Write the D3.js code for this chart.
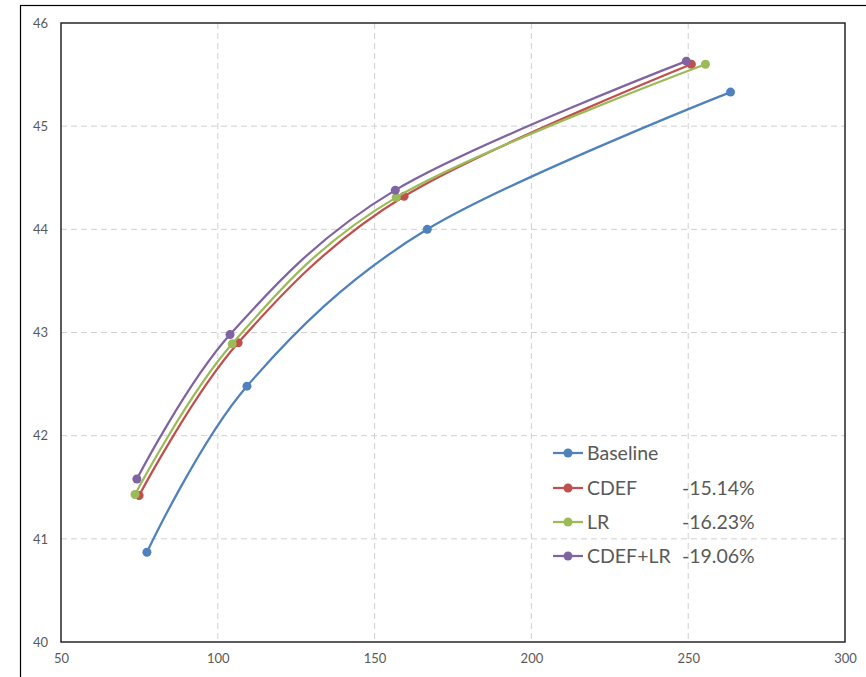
<!DOCTYPE html>
<html lang="en">
<head>
<meta charset="UTF-8">
<title>Rate curves</title>
<script src="https://d3js.org/d3.v7.min.js"></script>
<style>
  body { margin: 0; background: #fff; font-family: Lato, 'Open Sans', Arial, sans-serif; }
  .tick text { fill: #595959; font-size: 13px; }
  .legend text { fill: #595959; font-size: 19.5px; }
</style>
</head>
<body>
<svg width="866" height="677"></svg>
<script>
// series data (bitrate, quality)
const seriesNames = ["Baseline", "CDEF", "LR", "CDEF+LR"];
const savings = ["", "-15.14%", "-16.23%", "-19.06%"];
const colors = ["#4f81bd", "#c0504d", "#9bbb59", "#8064a2"];
const baselineX = [77.4, 109.3, 166.8, 263.5];
const baselineY = [40.87, 42.48, 44.00, 45.33];
const cdefX = [74.9, 106.5, 159.4, 251.0];
const cdefY = [41.42, 42.90, 44.32, 45.60];
const lrX = [73.6, 104.6, 156.9, 255.5];
const lrY = [41.43, 42.89, 44.31, 45.60];
const bothX = [74.2, 103.9, 156.6, 249.4];
const bothY = [41.58, 42.98, 44.38, 45.63];
const xTicks = [50, 100, 150, 200, 250, 300];
const yTicks = [40, 41, 42, 43, 44, 45, 46];

const series = [
  { xs: baselineX, ys: baselineY },
  { xs: cdefX, ys: cdefY },
  { xs: lrX, ys: lrY },
  { xs: bothX, ys: bothY }
].map((s, i) => ({
  name: seriesNames[i], color: colors[i], saving: savings[i],
  pts: s.xs.map((x, j) => [x, s.ys[j]])
}));

const svg = d3.select("svg");
const plotLeft = 61, plotRight = 845, plotTop = 23, plotBottom = 642;

// outer chart border
svg.append("rect")
  .attr("x", 20.5).attr("y", 5.5).attr("width", 900).attr("height", 700)
  .attr("fill", "none").attr("stroke", "#000").attr("stroke-width", 1.2);

const x = d3.scaleLinear().domain([50, 300]).range([plotLeft, plotRight]);
const y = d3.scaleLinear().domain([40, 46]).range([plotBottom, plotTop]);

// grid lines
svg.append("g")
  .selectAll("line").data(xTicks.slice(1, -1)).join("line")
  .attr("x1", d => x(d)).attr("x2", d => x(d))
  .attr("y1", plotTop).attr("y2", plotBottom)
  .attr("stroke", "#d0d0d0").attr("stroke-dasharray", "6,4");
svg.append("g")
  .selectAll("line").data(yTicks.slice(1, -1)).join("line")
  .attr("x1", plotLeft).attr("x2", plotRight)
  .attr("y1", d => y(d)).attr("y2", d => y(d))
  .attr("stroke", "#d0d0d0").attr("stroke-dasharray", "6,4");

// axes
const xAxis = svg.append("g")
  .attr("transform", `translate(0,${plotBottom})`)
  .call(d3.axisBottom(x).tickValues(xTicks).tickFormat(d3.format("d")).tickSize(0).tickPadding(12));
xAxis.select(".domain").remove();
const yAxis = svg.append("g")
  .attr("transform", `translate(${plotLeft},0)`)
  .call(d3.axisLeft(y).tickValues(yTicks).tickFormat(d3.format("d")).tickSize(0).tickPadding(13));
yAxis.select(".domain").remove();
svg.selectAll(".tick text").attr("font-family", "Lato, 'Open Sans', Arial, sans-serif");

// plot border
svg.append("rect")
  .attr("x", plotLeft).attr("y", plotTop)
  .attr("width", plotRight - plotLeft).attr("height", plotBottom - plotTop)
  .attr("fill", "none").attr("stroke", "#262626").attr("stroke-width", 1.5);

// smooth lines
const line = d3.line()
  .x(d => x(d[0])).y(d => y(d[1]))
  .curve(d3.curveCardinal.tension(0));

const g = svg.append("g");
series.forEach(s => {
  g.append("path")
    .attr("d", line(s.pts))
    .attr("fill", "none").attr("stroke", s.color).attr("stroke-width", 2.25);
  g.append("g").selectAll("circle").data(s.pts).join("circle")
    .attr("cx", d => x(d[0])).attr("cy", d => y(d[1])).attr("r", 4.5)
    .attr("fill", s.color);
});

// legend
const legend = svg.append("g").attr("class", "legend");
const legY = [453, 488, 522, 556];
series.forEach((s, i) => {
  const row = legend.append("g").attr("transform", `translate(553,${legY[i]})`);
  row.append("line").attr("x1", 0).attr("x2", 30)
    .attr("stroke", s.color).attr("stroke-width", 2.25);
  row.append("circle").attr("cx", 15).attr("r", 4.5).attr("fill", s.color);
  row.append("text").attr("x", 34).attr("dy", "0.35em").text(s.name);
  if (s.saving) row.append("text").attr("x", 129).attr("dy", "0.35em").text(s.saving);
});
</script>
</body>
</html>
